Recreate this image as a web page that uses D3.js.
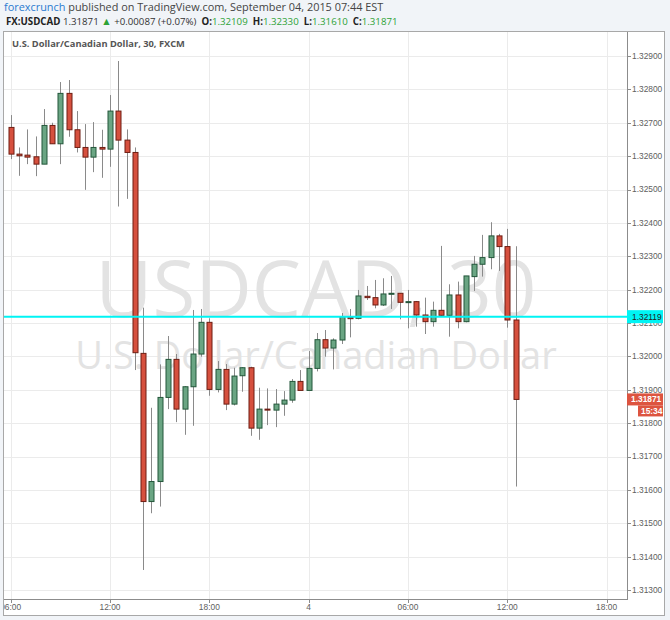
<!DOCTYPE html>
<html><head><meta charset="utf-8">
<script src="https://cdn.jsdelivr.net/npm/d3@7"></script>
<style>body{margin:0;background:#f1f4f8;overflow:hidden}</style>
</head><body><svg id="c" width="670" height="620"></svg>
<script>
// ---- data ----
const times = [
"2015-09-03 06:00","2015-09-03 06:30","2015-09-03 07:00","2015-09-03 07:30","2015-09-03 08:00","2015-09-03 08:30",
"2015-09-03 09:00","2015-09-03 09:30","2015-09-03 10:00","2015-09-03 10:30","2015-09-03 11:00","2015-09-03 11:30",
"2015-09-03 12:00","2015-09-03 12:30","2015-09-03 13:00","2015-09-03 13:30","2015-09-03 14:00","2015-09-03 14:30",
"2015-09-03 15:00","2015-09-03 15:30","2015-09-03 16:00","2015-09-03 16:30","2015-09-03 17:00","2015-09-03 17:30",
"2015-09-03 18:00","2015-09-03 18:30","2015-09-03 19:00","2015-09-03 19:30","2015-09-03 20:00","2015-09-03 20:30",
"2015-09-03 21:00","2015-09-03 21:30","2015-09-03 22:00","2015-09-03 22:30","2015-09-03 23:00","2015-09-03 23:30",
"2015-09-04 00:00","2015-09-04 00:30","2015-09-04 01:00","2015-09-04 01:30","2015-09-04 02:00","2015-09-04 02:30",
"2015-09-04 03:00","2015-09-04 03:30","2015-09-04 04:00","2015-09-04 04:30","2015-09-04 05:00","2015-09-04 05:30",
"2015-09-04 06:00","2015-09-04 06:30","2015-09-04 07:00","2015-09-04 07:30","2015-09-04 08:00","2015-09-04 08:30",
"2015-09-04 09:00","2015-09-04 09:30","2015-09-04 10:00","2015-09-04 10:30","2015-09-04 11:00","2015-09-04 11:30",
"2015-09-04 12:00","2015-09-04 12:30"];
const open = [1.32686,1.32606,1.32603,1.32598,1.32576,1.32692,1.32637,1.32788,1.32679,1.32626,
1.32597,1.32626,1.32621,1.32735,1.32648,1.32611,1.32009,1.31565,1.31625,1.31877,
1.31991,1.31842,1.31909,1.32007,1.32102,1.31901,1.31961,1.31857,1.31942,1.31966,
1.31785,1.31842,1.31839,1.31857,1.31869,1.31925,1.31898,1.31964,1.32050,1.32025,
1.32049,1.32117,1.32114,1.32180,1.32176,1.32154,1.32187,1.32189,1.32162,1.32164,
1.32124,1.32104,1.32138,1.32123,1.32184,1.32104,1.32239,1.32276,1.32296,1.32361,
1.32329,1.32109];
const high = [1.32723,1.32626,1.32680,1.32659,1.32741,1.32700,1.32822,1.32828,1.32735,1.32696,
1.32702,1.32679,1.32783,1.32885,1.32680,1.32626,1.32146,1.31846,1.31976,1.32061,
1.32007,1.31911,1.32139,1.32142,1.32114,1.31986,1.31977,1.31966,1.31968,1.31969,
1.31906,1.31904,1.31902,1.31896,1.31932,1.31959,1.32016,1.32070,1.32079,1.32054,
1.32130,1.32142,1.32199,1.32211,1.32229,1.32234,1.32241,1.32189,1.32199,1.32166,
1.32176,1.32164,1.32331,1.32216,1.32224,1.32241,1.32301,1.32364,1.32402,1.32367,
1.32382,1.32330];
const low = [1.32591,1.32541,1.32576,1.32540,1.32576,1.32637,1.32576,1.32658,1.32611,1.32499,
1.32552,1.32535,1.32568,1.32449,1.32472,1.31959,1.31360,1.31530,1.31550,1.31842,
1.31803,1.31765,1.31792,1.31999,1.31882,1.31892,1.31839,1.31853,1.31894,1.31762,
1.31750,1.31794,1.31788,1.31822,1.31861,1.31898,1.31898,1.31955,1.31999,1.31961,
1.32037,1.32057,1.32111,1.32169,1.32144,1.32151,1.32142,1.32111,1.32084,1.32089,
1.32067,1.32089,1.32121,1.32059,1.32084,1.32102,1.32196,1.32239,1.32261,1.32256,
1.32086,1.31610];
const close = [1.32606,1.32601,1.32597,1.32576,1.32692,1.32637,1.32788,1.32679,1.32626,1.32597,
1.32626,1.32621,1.32735,1.32648,1.32611,1.32011,1.31565,1.31625,1.31877,1.31991,
1.31842,1.31909,1.32007,1.32102,1.31901,1.31961,1.31857,1.31941,1.31966,1.31785,
1.31842,1.31839,1.31857,1.31869,1.31925,1.31898,1.31964,1.32050,1.32025,1.32049,
1.32119,1.32113,1.32181,1.32176,1.32154,1.32187,1.32189,1.32162,1.32164,1.32124,
1.32104,1.32138,1.32123,1.32184,1.32104,1.32241,1.32276,1.32296,1.32361,1.32329,
1.32109,1.31871];
const timeTicks = ["2015-09-03 06:00","2015-09-03 12:00","2015-09-03 18:00","2015-09-04 00:00","2015-09-04 06:00","2015-09-04 12:00","2015-09-04 18:00"];
const timeTickLabels = ["06:00","12:00","18:00","4","06:00","12:00","18:00"];
const priceDomain = [1.313, 1.329];
const hLinePrice = 1.32119;
const lastPrice = 1.31871;
const countdown = "15:34";
const symbolTitle = "U.S. Dollar/Canadian Dollar, 30, FXCM";
const watermark1 = "USDCAD, 30";
const watermark2 = "U.S. Dollar/Canadian Dollar";

// ---- layout ----
const parse = d3.utcParse("%Y-%m-%d %H:%M");
const L = 4, T = 32, R = 627, B = 599;
const x = d3.scaleUtc().domain([parse("2015-09-03 06:00"), parse("2015-09-04 18:00")]).range([10.7, 606.6]);
const y = d3.scaleLinear().domain(priceDomain).range([590, 56]);
const svg = d3.select("#c");
const font = "'Open Sans', sans-serif";
const axFont = "'Liberation Sans', Arial, sans-serif";

// header
const h1 = svg.append("text").attr("x", 4).attr("y", 10.5).attr("font-family", font).attr("font-size", 10.9);
h1.append("tspan").attr("fill", "#2b7bd0").text("forexcrunch");
h1.append("tspan").attr("fill", "#444").text(" published on TradingView.com, September 04, 2015 07:44 EST");
const h2 = svg.append("text").attr("x", 6).attr("y", 25).attr("font-family", font).attr("font-size", 9.7).attr("fill", "#333");
const green = "#2ea236";
const parts = [["FX:USDCAD", "bold", "#222", 9.7], [" 1.31871 ", "normal", "#333", 9.7], ["\u25B2", "normal", green, 10.5],
  [" +0.00087 (+0.07%)  ", "normal", "#333", 9.7], ["O:", "bold", "#222", 9.7], ["1.32109  ", "normal", green, 9.7],
  ["H:", "bold", "#222", 9.7], ["1.32330  ", "normal", green, 9.7], ["L:", "bold", "#222", 9.7], ["1.31610  ", "normal", green, 9.7],
  ["C:", "bold", "#222", 9.7], ["1.31871", "normal", green, 9.7]];
parts.forEach(p => h2.append("tspan").attr("font-weight", p[1]).attr("fill", p[2]).attr("font-size", p[3])
  .attr("xml:space","preserve").text(p[0]));

// frame
svg.append("rect").attr("x", 3.5).attr("y", 31.5).attr("width", 661).attr("height", 584)
  .attr("fill", "#fff").attr("stroke", "#a8a8a8");

svg.append("clipPath").attr("id", "clip").append("rect").attr("x", L).attr("y", T).attr("width", R - L).attr("height", B - T);
svg.append("clipPath").attr("id", "clipAll").append("rect").attr("x", L).attr("y", T).attr("width", 660).attr("height", 583);

// grid
const yTicks = y.ticks(16);
const grid = svg.append("g").attr("clip-path", "url(#clip)");
grid.selectAll(".hg").data(yTicks).join("line").attr("x1", L).attr("x2", R)
  .attr("y1", d => Math.round(y(d)) + 0.5).attr("y2", d => Math.round(y(d)) + 0.5).attr("stroke", "#ebebeb");
const tt = timeTicks.map(parse);
grid.selectAll(".vg").data(tt).join("line").attr("y1", T).attr("y2", B)
  .attr("x1", d => Math.round(x(d)) + 0.5).attr("x2", d => Math.round(x(d)) + 0.5).attr("stroke", "#ebebeb");

// watermark
const wm = svg.append("g").attr("clip-path", "url(#clip)").attr("font-family", font).attr("fill", "#e3e3e3").attr("text-anchor", "middle");
wm.append("text").attr("x", 316).attr("y", 317).attr("font-size", 78).text(watermark1);
wm.append("text").attr("x", 316).attr("y", 369).attr("font-size", 38).text(watermark2);

// title
svg.append("text").attr("x", 12).attr("y", 47).attr("font-family", font).attr("font-weight", "bold")
  .attr("font-size", 9.3).attr("fill", "#555").text(symbolTitle);

// candles
const data = times.map((t, i) => ({t: parse(t), o: open[i], h: high[i], l: low[i], c: close[i]}));
const cg = svg.append("g").attr("clip-path", "url(#clip)");
cg.selectAll(".wick").data(data).join("line")
  .attr("x1", d => Math.round(x(d.t)) + 0.5).attr("x2", d => Math.round(x(d.t)) + 0.5)
  .attr("y1", d => y(d.h)).attr("y2", d => y(d.l)).attr("stroke", "#8a8a8a").attr("stroke-width", 1);
cg.selectAll(".body").data(data).join("rect")
  .attr("x", d => Math.round(x(d.t)) - 2)
  .attr("y", d => y(Math.max(d.o, d.c)))
  .attr("width", 5)
  .attr("height", d => Math.max(1, Math.abs(y(d.o) - y(d.c))))
  .attr("fill", d => d.c >= d.o ? "#6aa583" : "#d6503e")
  .attr("stroke", d => d.c >= d.o ? "#23563a" : "#6e1d12").attr("stroke-width", 1);

// horizontal line
svg.append("line").attr("x1", L).attr("x2", R).attr("y1", y(hLinePrice)).attr("y2", y(hLinePrice))
  .attr("stroke", "#00f4f4").attr("stroke-width", 2);

// axes lines
svg.append("line").attr("x1", R + 0.5).attr("x2", R + 0.5).attr("y1", T).attr("y2", B).attr("stroke", "#8c8c8c");
svg.append("line").attr("x1", L).attr("x2", R + 1).attr("y1", B + 0.5).attr("y2", B + 0.5).attr("stroke", "#8c8c8c");

// price axis
const pa = svg.append("g").attr("font-family", axFont).attr("font-size", 8.4).attr("fill", "#606060");
pa.selectAll("line").data(yTicks).join("line").attr("x1", R).attr("x2", R + 4)
  .attr("y1", d => Math.round(y(d)) + 0.5).attr("y2", d => Math.round(y(d)) + 0.5).attr("stroke", "#8c8c8c");
pa.selectAll("text").data(yTicks).join("text").attr("x", R + 5).attr("y", d => y(d))
  .attr("dy", "0.35em").text(d => d3.format(".5f")(d));

// time axis
const ta = svg.append("g").attr("font-family", axFont).attr("font-size", 8.4).attr("fill", "#606060").attr("clip-path", "url(#clipAll)");
ta.selectAll("line").data(tt).join("line").attr("y1", B).attr("y2", B + 4)
  .attr("x1", d => Math.round(x(d)) + 0.5).attr("x2", d => Math.round(x(d)) + 0.5).attr("stroke", "#8c8c8c");
ta.selectAll("text").data(tt).join("text").attr("x", d => x(d)).attr("y", 610).attr("text-anchor", "middle")
  .text((d, i) => timeTickLabels[i]);

// price labels
const yc = y(hLinePrice);
svg.append("rect").attr("x", R).attr("y", yc - 6.5).attr("width", 36).attr("height", 13).attr("fill", "#00f4f4");
svg.append("text").attr("x", R + 5).attr("y", yc).attr("dy", "0.35em").attr("font-family", axFont)
  .attr("font-size", 8.4).attr("fill", "#222").text(d3.format(".5f")(hLinePrice));
const yl = y(lastPrice);
svg.append("rect").attr("x", R).attr("y", yl - 6).attr("width", 36).attr("height", 12).attr("fill", "#dd5440");
svg.append("text").attr("x", R + 4).attr("y", yl).attr("dy", "0.35em").attr("font-family", axFont)
  .attr("font-size", 8.4).attr("font-weight", "bold").attr("fill", "#fff").text(d3.format(".5f")(lastPrice));
svg.append("rect").attr("x", R + 11).attr("y", yl + 6).attr("width", 25).attr("height", 11).attr("fill", "#dd5440");
svg.append("text").attr("x", R + 14).attr("y", yl + 11.5).attr("dy", "0.35em").attr("font-family", axFont)
  .attr("font-size", 8.4).attr("font-weight", "bold").attr("fill", "#fff").text(countdown);
</script></body></html>
